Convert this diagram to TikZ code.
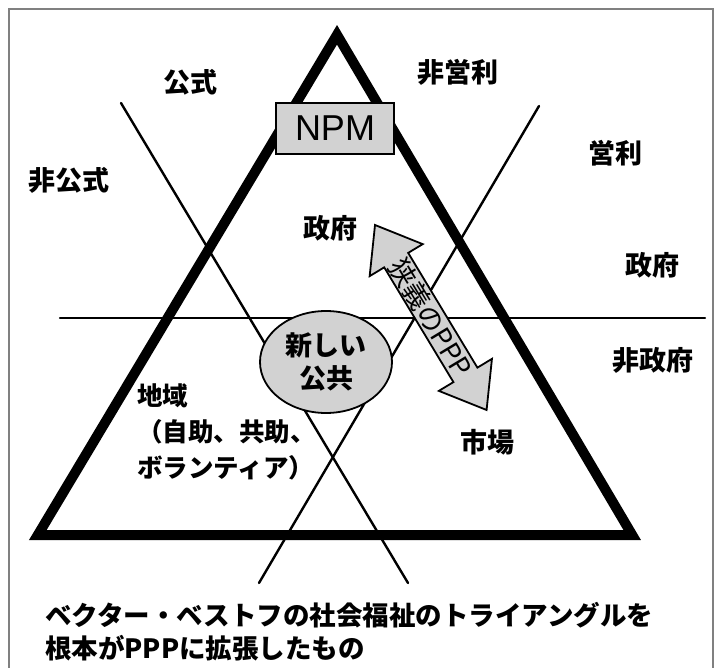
\documentclass[tikz,border=0pt]{standalone}
\usepackage{fontspec}
\setmainfont{Noto Sans CJK JP}
\newfontfamily\npmfont{Liberation Sans}
\usetikzlibrary{shapes.geometric}
\definecolor{shapegray}{HTML}{D2D2D2}
\definecolor{framegray}{HTML}{808080}
\begin{document}
\begin{tikzpicture}[x=1pt,y=-1pt,
  lbl/.style={font=\bfseries\fontsize{27}{32}\selectfont, inner sep=0pt},
  thinline/.style={line width=2.4pt, line cap=round},
  grayfill/.style={fill=shapegray, draw=black, line width=1.8pt},
]
\useasboundingbox (0,0) rectangle (723,668);
% frame
\draw[framegray, line width=1.2pt] (9,668) -- (9,9) -- (713,9) -- (713,668);
% thin dividing lines
\coordinate (la) at (121,103); \coordinate (lb) at (408,583);
\coordinate (ra) at (539,106); \coordinate (rb) at (259,583);
\coordinate (ha) at (60,318);  \coordinate (hb) at (705,318);
\draw[thinline] (la) -- (lb);
\draw[thinline] (ra) -- (rb);
\draw[thinline] (ha) -- (hb);
% triangle
\coordinate (apex) at (337,34.8);
\coordinate (bl) at (37.8,535);
\coordinate (br) at (632.2,535);
\draw[line width=10pt, line join=miter] (apex) -- (bl) -- (br) -- cycle;
% NPM box
\node[grayfill, rectangle, minimum width=118pt, minimum height=51pt, inner sep=0pt,
      font=\npmfont\fontsize{36}{36}\selectfont] (npm) at (335,128.5) {NPM};
% new public ellipse
\node[grayfill, ellipse, minimum width=132pt, minimum height=102pt, inner sep=0pt,
      align=center, font=\bfseries\fontsize{27}{33}\selectfont] (np) at (326,362) {新しい\\公共};
% double arrow
\begin{scope}[shift={(430.8,317.5)}, rotate=-58.9]
  \draw[grayfill, line join=miter] (108,0) -- (67,31) -- (67,14) -- (-67,14) -- (-67,31)
     -- (-108,0) -- (-67,-31) -- (-67,-14) -- (67,-14) -- (67,-31) -- cycle;
  \node[rotate=-58.9, inner sep=0pt, font=\fontsize{27}{27}\selectfont] (ppp) at (0,0) {狭義のPPP};
\end{scope}
% labels
\node[lbl] (koshiki) at (190,82) {公式};
\node[lbl] (hieiri) at (458,72) {非営利};
\node[lbl] (hikoshiki) at (69,180) {非公式};
\node[lbl] (eiri) at (615,153) {営利};
\node[lbl] (seifu1) at (330,228) {政府};
\node[lbl] (seifu2) at (652,265) {政府};
\node[lbl] (hiseifu) at (653,360) {非政府};
\node[lbl] (shijo) at (487,442) {市場};
\node[lbl, anchor=west, align=left, font=\bfseries\fontsize{25.5}{36}\selectfont] (chiiki) at (137,431.5)
  {地域\\（自助、共助、\\ボランティア）};
% caption
\node[anchor=west, align=left, inner sep=0pt, font=\bfseries\fontsize{26.5}{33}\selectfont] (caption) at (45,631.5)
  {ベクター・ベストフの社会福祉のトライアングルを\\根本がPPPに拡張したもの};
\end{tikzpicture}
\end{document}
